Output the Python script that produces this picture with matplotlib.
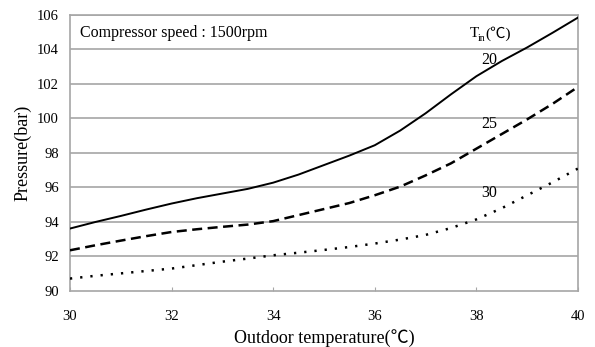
import matplotlib
matplotlib.use('Agg')
import matplotlib.pyplot as plt

# values (every half degree)
temp = [30, 30.5, 31, 31.5, 32, 32.5, 33, 33.5, 34, 34.5, 35,
        35.5, 36, 36.5, 37, 37.5, 38, 38.5, 39, 39.5, 40]
p_20 = [93.62, 94.0, 94.35, 94.72, 95.07, 95.38, 95.65, 95.92, 96.28, 96.75, 97.3,
        97.85, 98.45, 99.3, 100.3, 101.4, 102.45, 103.33, 104.12, 104.97, 105.85]
p_25 = [92.36, 92.65, 92.92, 93.18, 93.42, 93.58, 93.72, 93.85, 94.05, 94.4, 94.75,
        95.1, 95.55, 96.05, 96.7, 97.4, 98.25, 99.1, 99.95, 100.85, 101.83]
p_30 = [90.72, 90.88, 91.02, 91.16, 91.3, 91.5, 91.7, 91.88, 92.07, 92.22, 92.38,
        92.55, 92.75, 92.98, 93.25, 93.65, 94.15, 94.8, 95.55, 96.3, 97.1]
curve_labels = ['20', '25', '30']

plt.rcParams['font.family'] = ['Liberation Serif', 'Noto Sans CJK JP', 'DejaVu Sans']

fig = plt.figure(figsize=(5.95, 3.47), dpi=100)
ax = fig.add_axes([0.1176, 0.1614, 0.8538, 0.7954])

grid_c = '#a6a6a6'
ax.plot(temp, p_20, color='black', lw=1.4, zorder=3)
ax.plot(temp, p_25, color='black', lw=1.8, dashes=(4, 2.2), zorder=3)
ax.plot(temp, p_30, color='black', lw=1.8, dashes=(0.9, 3.2), zorder=3)

ax.set_xlim(30, 40)
ax.set_ylim(90, 106)
ax.set_xticks(range(30, 41, 2))
ax.set_yticks(range(90, 107, 2))
for y in range(92, 107, 2):
    ax.axhline(y, color=grid_c, lw=1.2, zorder=1)
for s in ax.spines.values():
    s.set_color(grid_c)
    s.set_linewidth(1.2)

ax.tick_params(axis='x', direction='in', length=3, color=grid_c, labelsize=10.5, pad=14)
ax.tick_params(axis='y', length=0, labelsize=10.5, pad=8)

ax.set_xlabel('Outdoor temperature(℃)', fontsize=13, labelpad=4)
ax.set_ylabel('Pressure(bar)', fontsize=13, labelpad=4)

ax.text(30.2, 104.94, 'Compressor speed : 1500rpm', fontsize=11.5, va='center')

# T_in(℃) header, built from pieces
ax.text(37.87, 104.94, 'T', fontsize=11, va='center')
ax.text(38.03, 104.65, 'in', fontsize=7, va='center')
ax.text(38.17, 104.94, '(℃)', fontsize=11, va='center')

ax.text(38.26, 103.4, curve_labels[0], fontsize=11.5, va='center', ha='center')
ax.text(38.26, 99.7, curve_labels[1], fontsize=11.5, va='center', ha='center')
ax.text(38.26, 95.68, curve_labels[2], fontsize=11.5, va='center', ha='center')

fig.savefig('out.png', dpi=100)
